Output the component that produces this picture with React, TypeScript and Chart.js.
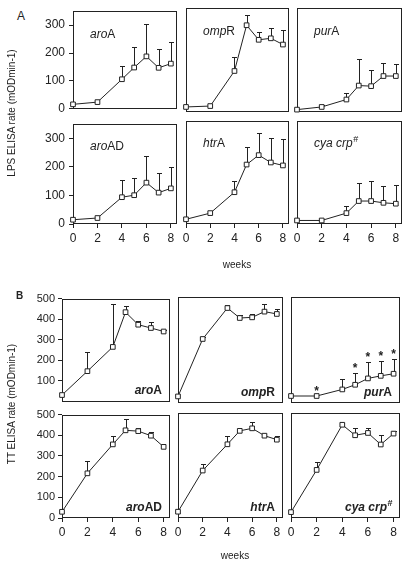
import React, { useEffect, useRef } from "react";
import { Chart, registerables } from "chart.js";

Chart.register(...registerables);

// ---------- data ----------
const WEEKS = [0, 2, 4, 5, 6, 7, 8];
const X_TICKS = [0, 2, 4, 6, 8];
const STRAINS = ["aroA", "ompR", "purA", "aroAD", "htrA", "cya crp"];
const STRAIN_SUP = ["", "", "", "", "", "#"];

const LPS_Y_TICKS = [0, 100, 200, 300];
const TT_Y_TICKS_TOP = [100, 200, 300, 400, 500];
const TT_Y_TICKS_BOTTOM = [0, 100, 200, 300, 400, 500];

// Panel A: LPS ELISA rate
const LPS_AROA = [16, 24, 106, 148, 188, 147, 162];
const LPS_AROA_ERR = [0, 0, 46, 72, 115, 69, 76];
const LPS_OMPR = [17, 20, 138, 292, 243, 248, 227];
const LPS_OMPR_ERR = [0, 0, 46, 33, 26, 36, 48];
const LPS_PURA = [8, 17, 42, 89, 87, 121, 121];
const LPS_PURA_ERR = [0, 8, 22, 91, 55, 45, 41];
const LPS_AROAD = [15, 21, 94, 101, 145, 110, 125];
const LPS_AROAD_ERR = [0, 5, 61, 59, 95, 70, 75];
const LPS_HTRA = [16, 37, 108, 202, 234, 209, 199];
const LPS_HTRA_ERR = [0, 0, 37, 60, 76, 82, 90];
const LPS_CYACRP = [12, 12, 37, 78, 78, 72, 69];
const LPS_CYACRP_ERR = [0, 0, 25, 61, 69, 57, 64];

// Panel B: TT ELISA rate
const TT_AROA = [31, 147, 265, 434, 373, 357, 340];
const TT_AROA_ERR = [0, 93, 210, 28, 20, 28, 8];
const TT_OMPR = [31, 302, 448, 401, 404, 431, 420];
const TT_OMPR_ERR = [0, 8, 16, 16, 17, 38, 23];
const TT_PURA = [33, 33, 64, 86, 116, 128, 138];
const TT_PURA_ERR = [0, 0, 50, 56, 76, 71, 70];
const TT_PURA_STARS = [false, true, false, true, true, true, true];
const TT_AROAD = [30, 216, 356, 424, 420, 398, 344];
const TT_AROAD_ERR = [0, 58, 39, 57, 13, 18, 0];
const TT_HTRA = [30, 226, 351, 415, 427, 392, 373];
const TT_HTRA_ERR = [0, 33, 38, 0, 29, 10, 19];
const TT_CYACRP = [28, 229, 444, 394, 405, 350, 402];
const TT_CYACRP_ERR = [0, 38, 8, 33, 25, 47, 10];

// ---------- layout / style ----------
const INK = "#222";
const FONT = "'Liberation Sans', Arial, Helvetica, sans-serif";
const M = 8;

const A_COL_X = [73, 186, 297];
const A_COL_W = [104, 103, 105];
const A_ROW_Y = [8, 121];
const A_ROW_H = [104, 103];

const B_COL_X = [62, 178, 291];
const B_COL_W = [108, 105, 109];
const B_ROW_Y = [297, 413];
const B_ROW_H = [106, 105];

type Box = { x: number; y: number; w: number; h: number };
interface SubProps {
  box: Box;
  values: number[];
  errs: number[];
  yMax: number;
  yTicks: number[] | null;
  yAxisW: number;
  yTickFont: number;
  yTickPad: number;
  showX: boolean;
  xTickPad: number;
  xAxisH: number;
  name: string;
  sup: string;
  labelPos: "tl" | "br";
  bold: boolean;
  labelDX: number;
  labelDY: number;
  stars?: boolean[];
}

function SmallChart(p: SubProps) {
  const ref = useRef<HTMLCanvasElement>(null);
  const yW = p.yTicks ? p.yAxisW : 0;
  const xH = p.showX ? p.xAxisH : 0;
  const cw = p.box.w + 2 * M + yW;
  const ch = p.box.h + 2 * M + xH;

  useEffect(() => {
    if (!ref.current) return;
    const framePlugin = {
      id: "frame",
      beforeDatasetsDraw(chart: any) {
        const { ctx, chartArea: a } = chart;
        ctx.save();
        ctx.strokeStyle = INK;
        ctx.lineWidth = 1;
        ctx.strokeRect(
          Math.round(a.left) + 0.5,
          Math.round(a.top) + 0.5,
          Math.round(a.width) - 1,
          Math.round(a.height) - 1
        );
        ctx.restore();
      },
    };
    const errorPlugin = {
      id: "errbars",
      beforeDatasetsDraw(chart: any) {
        const { ctx } = chart;
        const xs = chart.scales.x;
        const ys = chart.scales.y;
        ctx.save();
        ctx.strokeStyle = INK;
        ctx.lineWidth = 1;
        WEEKS.forEach((w, i) => {
          const e = p.errs[i];
          if (!e) return;
          const px = Math.round(xs.getPixelForValue(w)) + 0.5;
          const y0 = ys.getPixelForValue(p.values[i]);
          const y1 = Math.round(ys.getPixelForValue(p.values[i] + e)) + 0.5;
          ctx.beginPath();
          ctx.moveTo(px, y0);
          ctx.lineTo(px, y1);
          ctx.moveTo(px - 2.5, y1);
          ctx.lineTo(px + 2.5, y1);
          ctx.stroke();
        });
        ctx.restore();
      },
    };
    const labelPlugin = {
      id: "strainLabel",
      afterDraw(chart: any) {
        const { ctx, chartArea: a } = chart;
        const weight = p.bold ? "bold " : "";
        const italicPart = p.name.replace(/[A-Z]+$/, "");
        const rest = p.name.slice(italicPart.length);
        const fi = `italic ${weight}12px ${FONT}`;
        const fn = `${weight}12px ${FONT}`;
        const fs = `${weight}9px ${FONT}`;
        ctx.save();
        ctx.fillStyle = INK;
        ctx.textBaseline = "alphabetic";
        ctx.textAlign = "left";
        ctx.font = fi;
        const w1 = ctx.measureText(italicPart).width;
        ctx.font = fn;
        const w2 = ctx.measureText(rest).width;
        ctx.font = fs;
        const w3 = p.sup ? ctx.measureText(p.sup).width : 0;
        const total = w1 + w2 + w3;
        let x: number;
        let y: number;
        if (p.labelPos === "tl") {
          x = a.left + p.labelDX;
          y = a.top + p.labelDY;
        } else {
          x = a.right - p.labelDX - total;
          y = a.bottom - p.labelDY;
        }
        ctx.font = fi;
        ctx.fillText(italicPart, x, y);
        ctx.font = fn;
        ctx.fillText(rest, x + w1, y);
        if (p.sup) {
          ctx.font = fs;
          ctx.fillText(p.sup, x + w1 + w2 + 0.5, y - 5);
        }
        ctx.restore();
      },
    };
    const starPlugin = {
      id: "stars",
      afterDatasetsDraw(chart: any) {
        if (!p.stars) return;
        const { ctx } = chart;
        const xs = chart.scales.x;
        const ys = chart.scales.y;
        ctx.save();
        ctx.fillStyle = INK;
        ctx.font = `bold 12px ${FONT}`;
        ctx.textAlign = "center";
        ctx.textBaseline = "alphabetic";
        WEEKS.forEach((w, i) => {
          if (!p.stars![i]) return;
          const top = ys.getPixelForValue(p.values[i] + p.errs[i]);
          ctx.fillText("*", xs.getPixelForValue(w), top - 1);
        });
        ctx.restore();
      },
    };

    const chart = new Chart(ref.current, {
      type: "line",
      data: {
        datasets: [
          {
            data: WEEKS.map((w, i) => ({ x: w, y: p.values[i] })),
            borderColor: INK,
            borderWidth: 1,
            pointStyle: "rect",
            pointRadius: 3.3,
            pointBackgroundColor: "#fff",
            pointBorderColor: INK,
            pointBorderWidth: 1,
            tension: 0,
            clip: false as any,
          },
        ],
      },
      options: {
        responsive: false,
        animation: false,
        events: [],
        layout: { padding: M },
        plugins: { legend: { display: false }, tooltip: { enabled: false } },
        scales: {
          x: {
            type: "linear",
            min: 0,
            max: 8.5,
            display: p.showX,
            afterBuildTicks: (s: any) => {
              s.ticks = X_TICKS.map((v) => ({ value: v }));
            },
            afterFit: (s: any) => {
              s.height = xH;
            },
            grid: { drawOnChartArea: false, drawTicks: true, tickLength: 4, color: INK },
            border: { display: false },
            ticks: {
              padding: p.xTickPad,
              autoSkip: false,
              maxRotation: 0,
              color: INK,
              font: { family: FONT, size: 12 },
            },
          },
          y: {
            type: "linear",
            min: 0,
            max: p.yMax,
            display: !!p.yTicks,
            afterBuildTicks: (s: any) => {
              s.ticks = (p.yTicks || []).map((v) => ({ value: v }));
            },
            afterFit: (s: any) => {
              s.width = yW;
            },
            grid: { drawOnChartArea: false, drawTicks: true, tickLength: 4, color: INK },
            border: { display: false },
            ticks: {
              padding: p.yTickPad,
              autoSkip: false,
              color: INK,
              font: { family: FONT, size: p.yTickFont },
            },
          },
        },
      },
      plugins: [framePlugin, errorPlugin, starPlugin, labelPlugin],
    });
    return () => chart.destroy();
  }, []);

  return (
    <canvas
      ref={ref}
      width={cw}
      height={ch}
      style={{
        position: "absolute",
        left: p.box.x - M - yW,
        top: p.box.y - M,
        width: cw,
        height: ch,
      }}
    />
  );
}

const textStyle: React.CSSProperties = {
  position: "absolute",
  fontFamily: FONT,
  color: INK,
  whiteSpace: "nowrap",
  lineHeight: 1,
};

export default function App() {
  const lpsVals = [LPS_AROA, LPS_OMPR, LPS_PURA, LPS_AROAD, LPS_HTRA, LPS_CYACRP];
  const lpsErrs = [LPS_AROA_ERR, LPS_OMPR_ERR, LPS_PURA_ERR, LPS_AROAD_ERR, LPS_HTRA_ERR, LPS_CYACRP_ERR];
  const ttVals = [TT_AROA, TT_OMPR, TT_PURA, TT_AROAD, TT_HTRA, TT_CYACRP];
  const ttErrs = [TT_AROA_ERR, TT_OMPR_ERR, TT_PURA_ERR, TT_AROAD_ERR, TT_HTRA_ERR, TT_CYACRP_ERR];

  const charts: React.ReactNode[] = [];
  for (let i = 0; i < 6; i++) {
    const r = Math.floor(i / 3);
    const c = i % 3;
    charts.push(
      <SmallChart
        key={"a" + i}
        box={{ x: A_COL_X[c], y: A_ROW_Y[r], w: A_COL_W[c], h: A_ROW_H[r] }}
        values={lpsVals[i]}
        errs={lpsErrs[i]}
        yMax={350}
        yTicks={c === 0 ? LPS_Y_TICKS : null}
        yAxisW={32}
        yTickFont={12}
        yTickPad={4}
        showX={r === 1}
        xTickPad={3}
        xAxisH={20}
        name={STRAINS[i]}
        sup={STRAIN_SUP[i]}
        labelPos="tl"
        bold={false}
        labelDX={17}
        labelDY={r === 0 ? 27 : 26}
      />
    );
  }
  for (let i = 0; i < 6; i++) {
    const r = Math.floor(i / 3);
    const c = i % 3;
    charts.push(
      <SmallChart
        key={"b" + i}
        box={{ x: B_COL_X[c], y: B_ROW_Y[r], w: B_COL_W[c], h: B_ROW_H[r] }}
        values={ttVals[i]}
        errs={ttErrs[i]}
        yMax={500}
        yTicks={c === 0 ? (r === 0 ? TT_Y_TICKS_TOP : TT_Y_TICKS_BOTTOM) : null}
        yAxisW={30}
        yTickFont={11}
        yTickPad={3}
        showX={r === 1}
        xTickPad={3}
        xAxisH={22}
        name={STRAINS[i]}
        sup={STRAIN_SUP[i]}
        labelPos="br"
        bold={true}
        labelDX={8}
        labelDY={7}
        stars={i === 2 ? TT_PURA_STARS : undefined}
      />
    );
  }

  return (
    <div
      style={{
        position: "absolute",
        left: 0,
        top: 0,
        width: 414,
        height: 566,
        background: "#fff",
        overflow: "hidden",
      }}
    >
      {charts}
      <div style={{ ...textStyle, left: 17, top: 10, fontSize: 12 }}>A</div>
      <div style={{ ...textStyle, left: 16, top: 291, fontSize: 10, fontWeight: "bold" }}>B</div>
      <div
        style={{
          ...textStyle,
          left: 12,
          top: 113,
          fontSize: 10,
          transform: "translate(-50%, -50%) rotate(-90deg)",
        }}
      >
        LPS ELISA rate (mODmin-1)
      </div>
      <div
        style={{
          ...textStyle,
          left: 12,
          top: 404,
          fontSize: 10,
          transform: "translate(-50%, -50%) rotate(-90deg)",
        }}
      >
        TT ELISA rate (mODmin-1)
      </div>
      <div style={{ ...textStyle, left: 237, top: 265, fontSize: 10, transform: "translate(-50%, -50%)" }}>
        weeks
      </div>
      <div style={{ ...textStyle, left: 235, top: 556, fontSize: 10, transform: "translate(-50%, -50%)" }}>
        weeks
      </div>
    </div>
  );
}
